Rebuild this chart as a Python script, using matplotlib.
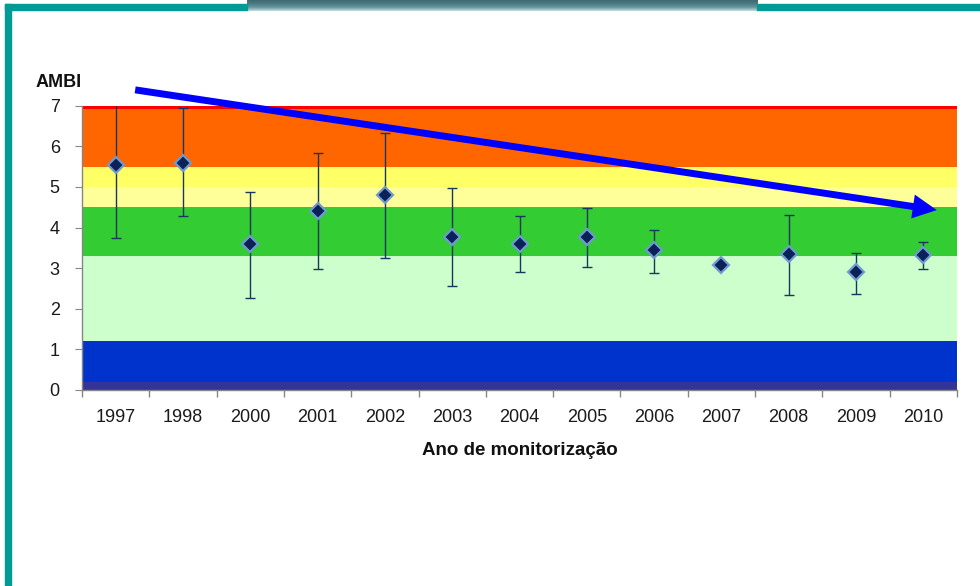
import numpy as np
import matplotlib.pyplot as plt
from matplotlib.patches import Rectangle
from matplotlib.colors import LinearSegmentedColormap

plt.rcParams['font.family'] = ['Liberation Sans', 'DejaVu Sans']

# AMBI per monitoring year: mean and range (None where there is no range)
anos = ['1997', '1998', '2000', '2001', '2002', '2003', '2004',
        '2005', '2006', '2007', '2008', '2009', '2010']
ambi_media = [5.54, 5.60, 3.59, 4.41, 4.80, 3.77, 3.60,
              3.77, 3.45, 3.07, 3.35, 2.90, 3.32]
ambi_max = [7.30, 6.94, 4.88, 5.84, 6.33, 4.97, 4.29,
            4.48, 3.95, None, 4.30, 3.38, 3.65]
ambi_min = [3.75, 4.29, 2.27, 2.99, 3.25, 2.56, 2.90,
            3.03, 2.89, None, 2.34, 2.36, 2.99]

# ecological status classes (lower, upper, colour)
classes = [
    (0.0, 0.2, '#333399'),
    (0.2, 1.2, '#0033CC'),
    (1.2, 3.3, '#CCFFCC'),
    (3.3, 4.5, '#33CC33'),
    (4.5, 5.0, '#FFFF99'),
    (5.0, 5.5, '#FFFF66'),
    (5.5, 6.92, '#FF6600'),
    (6.92, 7.0, '#FF0000'),
]

# trend arrow, in (category index, AMBI)
seta_ini = (0.29, 7.39)
seta_fim = (12.2, 4.43)

fig = plt.figure(figsize=(9.8, 5.86), dpi=100)
W, H = 980, 586

# slide frame
teal = '#009B96'
fig.patches.append(Rectangle((5 / W, 0), 6 / W, 1 - 4 / H, transform=fig.transFigure,
                             color=teal, zorder=0))
fig.patches.append(Rectangle((5 / W, 1 - 10 / H), 242 / W, 6 / H, transform=fig.transFigure,
                             color=teal, zorder=0))
fig.patches.append(Rectangle((757 / W, 1 - 10 / H), 223 / W, 6 / H, transform=fig.transFigure,
                             color=teal, zorder=0))
tab = fig.add_axes([247 / W, 1 - 11 / H, 510 / W, 11 / H])
grad = np.linspace(0, 1, 11)[:, None]
tab.imshow(grad, aspect='auto', extent=(0, 1, 0, 1),
           cmap=LinearSegmentedColormap.from_list(
               'tab', ['#3E6B74', '#4C7B83', '#6795A0', '#B6D4DA']))
tab.axis('off')

ax = fig.add_axes([82 / W, 1 - 390 / H, 875 / W, 284.3 / H])

for lo, hi, c in classes:
    ax.axhspan(lo, hi, color=c, lw=0, zorder=0)

x = np.arange(len(anos))
media = np.array(ambi_media)
tem_barra = [i for i in range(len(anos)) if ambi_max[i] is not None]
yerr = np.array([[media[i] - ambi_min[i] for i in tem_barra],
                 [ambi_max[i] - media[i] for i in tem_barra]])
ax.errorbar(x[tem_barra], media[tem_barra], yerr=yerr, fmt='none',
            ecolor='#17375E', elinewidth=1, capsize=3.6, capthick=1, zorder=2)
ax.plot(x, media, 'D', ms=8.5, mfc='#0B2259', mec='#6F9BD0', mew=1.6,
        ls='none', zorder=3)

ax.annotate('', xy=seta_fim, xytext=seta_ini, xycoords='data',
            annotation_clip=False,
            arrowprops=dict(arrowstyle='simple,head_length=1.73,head_width=1.73,tail_width=0.5',
                            mutation_scale=10, color='#0000FF', lw=0,
                            shrinkA=0, shrinkB=0), zorder=5)

ax.set_xlim(-0.5, len(anos) - 0.5)
ax.set_ylim(0, 7)
ax.set_yticks(range(8))
ax.set_xticks(x)
ax.set_xticklabels(anos)
ax.set_xticks(np.arange(-0.5, len(anos)), minor=True)
ax.tick_params(axis='x', which='major', length=0, pad=14, labelsize=13,
               labelcolor='#1a1a1a')
ax.tick_params(axis='x', which='minor', length=5, color='#868686', width=1)
ax.tick_params(axis='y', length=5, color='#868686', pad=11, labelsize=13,
               labelcolor='#1a1a1a')

for s in ['top', 'right']:
    ax.spines[s].set_visible(False)
for s in ['left', 'bottom']:
    ax.spines[s].set_color('#868686')
    ax.spines[s].set_linewidth(1)

fig.text(36 / W, 1 - 82.5 / H, 'AMBI', fontsize=13, fontweight='bold',
         ha='left', va='center', color='#111111')
ax.set_xlabel('Ano de monitorização', fontsize=13.5, fontweight='bold',
              labelpad=11, color='#111111')

fig.savefig('out.png', dpi=100)
